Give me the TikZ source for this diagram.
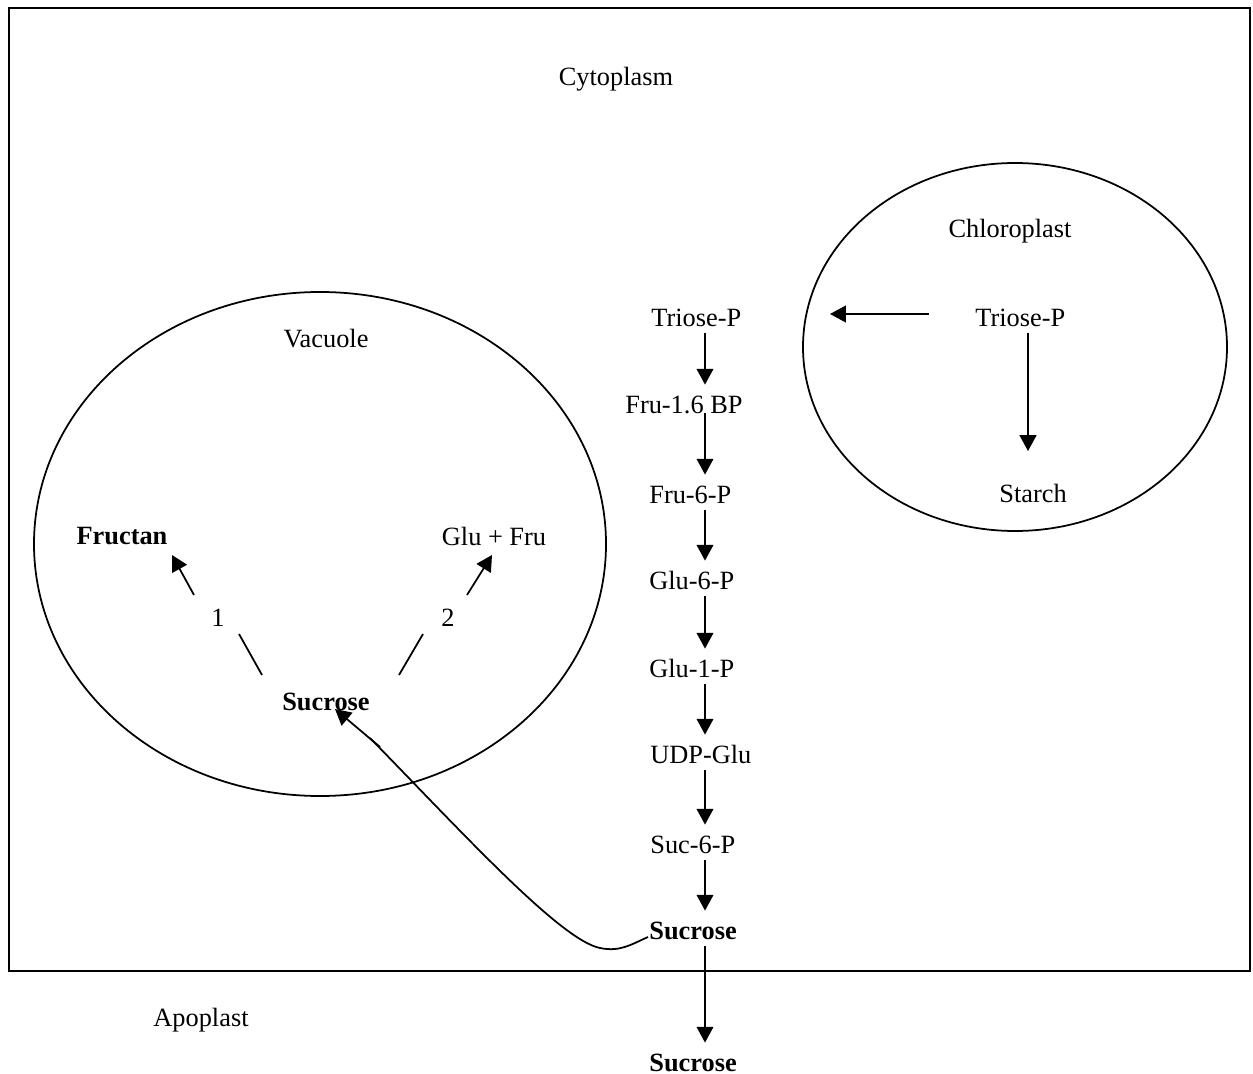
\documentclass[tikz,border=0pt]{standalone}
\usepackage{fontspec}
\setmainfont{Liberation Serif}
\usepackage{tikz}
\usetikzlibrary{calc,arrows.meta}
\def\fs{\fontsize{15}{18}\selectfont}

\begin{document}
\begin{tikzpicture}[x=0.02cm, y=-0.02cm,
		lab/.style={inner sep=0pt, anchor=base, font=\fs},
		bold/.style={font=\fs\bfseries},
		stage/.style={lab, anchor=base west, text height=0.66em, text depth=0.36em},
		ln/.style={line width=1pt},
		arr/.style={ln, -{Triangle[length=9pt,width=9.5pt]}},
		down/.style={arr, shorten >=9.35pt}]
		\useasboundingbox (0,0) rectangle (1253,1074);
		
		% 1. 外框：细胞质 / 质外体
		\draw[line width=1.1pt] (9,8) rectangle (1250,971);
		\node[lab] (cyto) at (616,86) {Cytoplasm};
		\node[lab] (apo) at (201,1026) {Apoplast};
		
		% 2. 叶绿体 (椭圆)
		\def\ca{212} \def\cb{184}
		\draw[ln] (1015,347) ellipse ({\ca} and {\cb});
		\node[lab] (chl) at (1010,238) {Chloroplast};
		\node[stage] (ctp) at (975,326) {Triose-P};
		\node[stage] (starch) at (999,502) {Starch};
		\coordinate (chlout) at (830,314);
		\coordinate (chlx) at (1028,0);
		\draw[arr] ($(ctp.base west)+(-46,-12)$) -- (chlout);
		\draw[arr] (ctp.south -| chlx) -- ($(starch.north -| chlx)+(0,-39)$);
		
		% 3. 中间一列：蔗糖合成
		\coordinate (col) at (705,0);
		\node[stage] (tp) at (651,326) {Triose-P};
		\node[stage] (fbp) at (625,413) {Fru-1.6 BP};
		\node[stage] (f6p) at (649,503) {Fru-6-P};
		\node[stage] (g6p) at (649,589) {Glu-6-P};
		\node[stage] (g1p) at (649,677) {Glu-1-P};
		\node[stage] (udpg) at (650,763) {UDP-Glu};
		\node[stage] (s6p) at (650,853) {Suc-6-P};
		\node[stage, bold] (csuc) at (649,939) {Sucrose};
		\node[stage, bold] (asuc) at (649,1071) {Sucrose};
		
		\draw[down] (tp.south -| col) -- (fbp.north -| col);
		\draw[down] (fbp.base -| col) -- (f6p.north -| col);
		\foreach \a/\b in {f6p/g6p, g6p/g1p, g1p/udpg, udpg/s6p, s6p/csuc, csuc/asuc}
		\draw[down] (\a.south -| col) -- (\b.north -| col);
		
		% 4. 液泡 (椭圆)
		\def\va{286} \def\vb{252}
		\draw[ln] (320,544) ellipse ({\va} and {\vb});
		\node[lab] (vac) at (326,347) {Vacuole};
		\node[lab, bold] (fru) at (122,544) {Fructan};
		\node[lab] (glu) at (494,545) {Glu + Fru};
		\node[lab, bold] (vsuc) at (326,710) {Sucrose};
		\node[lab] (n1) at (218,626) {1};
		\node[lab] (n2) at (448,626) {2};
		
		% 蔗糖 -> 果聚糖 (1), 蔗糖 -> 葡萄糖 + 果糖 (2)
		\draw[ln] (262,675) -- (239,634);
		\draw[arr] (194,595) -- (172,555);
		\draw[ln] (399,675) -- (423,634);
		\draw[arr] (467,595) -- (492,555);
		
		% 5. 细胞质蔗糖进入液泡
		\draw[ln] ($(csuc.base west)+(-1,-2)$) .. controls (630,945) and (620,952) .. (600,948)
		.. controls (560,940) and (460,830) .. (370,738);
		\draw[arr] (380,747) -- ($(vsuc.base)+(9,-1)$);
		
	\end{tikzpicture}
\end{document}
